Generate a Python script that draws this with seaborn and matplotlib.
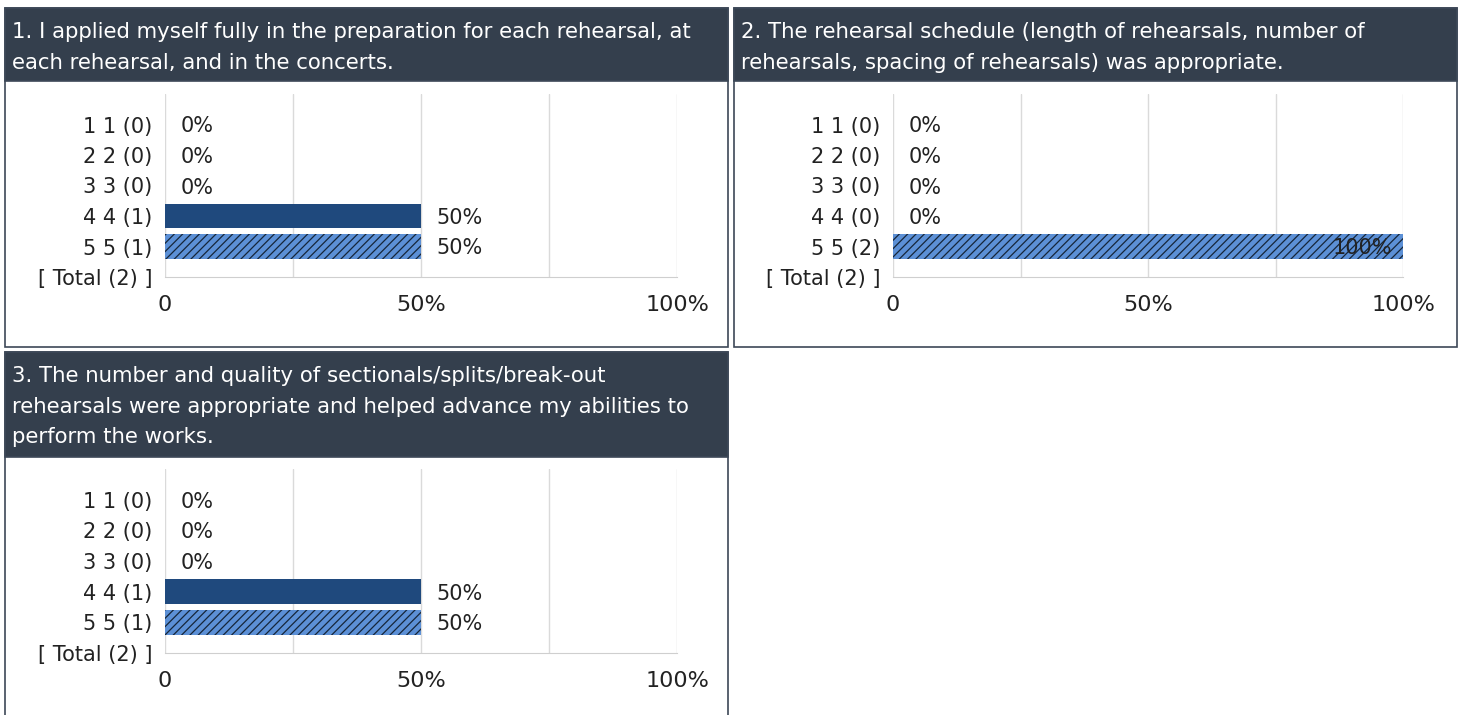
import numpy as np
import pandas as pd
import matplotlib.pyplot as plt
import seaborn as sns
from matplotlib.patches import Rectangle

# Données du sondage
levels = [1, 2, 3, 4, 5]
titles = [
    "1. I applied myself fully in the preparation for each rehearsal, at\neach rehearsal, and in the concerts.",
    "2. The rehearsal schedule (length of rehearsals, number of\nrehearsals, spacing of rehearsals) was appropriate.",
    "3. The number and quality of sectionals/splits/break-out\nrehearsals were appropriate and helped advance my abilities to\nperform the works.",
]
counts_q1 = [0, 0, 0, 1, 1]
counts_q2 = [0, 0, 0, 0, 2]
counts_q3 = [0, 0, 0, 1, 1]
x_ticks = [0, 50, 100]
x_tick_labels = ["0", "50%", "100%"]

sns.set_style("white")
plt.rcParams["font.family"] = ["DejaVu Sans"]
plt.rcParams["hatch.color"] = "#16263a"
plt.rcParams["hatch.linewidth"] = 0.9

W, H = 1463, 715
fig = plt.figure(figsize=(W / 100, H / 100), dpi=100)
fig.patch.set_facecolor("white")

HEADER = "#343f4d"
BORDER = "#3d4858"
DARK_BAR = "#1f497d"
LIGHT_BAR = "#5c90d6"
TXT = "#222222"


def fig_rect(x0, y0, x1, y1):
    # pixels (origine en haut à gauche) -> coordonnées figure
    return [x0 / W, 1 - y1 / H, (x1 - x0) / W, (y1 - y0) / H]


def draw_panel(box, header_bottom, axes_px, title, counts):
    x0, y0, x1, y1 = box
    r = fig_rect(x0, y0, x1, y1)
    fig.add_artist(Rectangle((r[0], r[1]), r[2], r[3], transform=fig.transFigure,
                             facecolor="white", edgecolor=BORDER, lw=1.2, zorder=-5))
    h = fig_rect(x0, y0, x1, header_bottom)
    fig.add_artist(Rectangle((h[0], h[1]), h[2], h[3], transform=fig.transFigure,
                             facecolor=HEADER, edgecolor=BORDER, lw=1.2, zorder=-4))
    fig.text((x0 + 7) / W, 1 - (y0 + 14) / H, title, color="white",
             fontsize=15.3, va="top", ha="left", linespacing=1.66)

    total = sum(counts)
    pcts = [c / total * 100 for c in counts]
    labels = [f"{l} {l} ({c})" for l, c in zip(levels, counts)]
    df = pd.DataFrame({"label": labels, "pct": pcts})

    ax = fig.add_axes(fig_rect(*axes_px))
    ax.set_facecolor("none")
    colors = [DARK_BAR] * 4 + [LIGHT_BAR]
    sns.barplot(data=df, x="pct", y="label", hue="label", palette=colors,
                legend=False, width=0.8, orient="h", saturation=1, ax=ax)
    for i, p in enumerate(ax.patches[:5]):
        if i == 4:
            p.set_hatch("////")
            p.set_edgecolor("#16263a")
        else:
            p.set_edgecolor(DARK_BAR)
        p.set_linewidth(0.0)

    for i, v in enumerate(pcts):
        txt = f"{v:.0f}%"
        if v > 85:
            ax.annotate(txt, xy=(v, i), xytext=(-8, 0), textcoords="offset points",
                        ha="right", va="center_baseline", fontsize=15, color=TXT)
        else:
            ax.annotate(txt, xy=(v, i), xytext=(11, 0), textcoords="offset points",
                        ha="left", va="center_baseline", fontsize=15, color=TXT)

    ax.set_xlim(0, 100)
    ax.set_ylim(5, -1)
    ax.set_yticks(range(6), labels + [f"[ Total ({total}) ]"])
    ax.set_xticks(x_ticks, x_tick_labels)
    ax.set_xticks([25, 75], minor=True)
    ax.grid(axis="x", which="both", color="#dadada", lw=1)
    ax.set_axisbelow(True)
    for s in ["top", "right", "left"]:
        ax.spines[s].set_visible(False)
    ax.spines["bottom"].set_color("#cfcfcf")
    ax.tick_params(axis="x", which="both", length=0, pad=13, labelsize=16, labelcolor=TXT)
    ax.tick_params(axis="y", length=6, width=1, color="#cccccc", pad=3,
                   labelsize=15, labelcolor=TXT)
    ax.set_xlabel("")
    ax.set_ylabel("")


draw_panel((5, 8, 728, 347), 81, (165, 94, 677, 277), titles[0], counts_q1)
draw_panel((734, 8, 1457, 347), 81, (893, 94, 1403, 277), titles[1], counts_q2)
draw_panel((5, 352, 728, 730), 457, (165, 469, 677, 653), titles[2], counts_q3)

plt.savefig("out.png", dpi=100)
